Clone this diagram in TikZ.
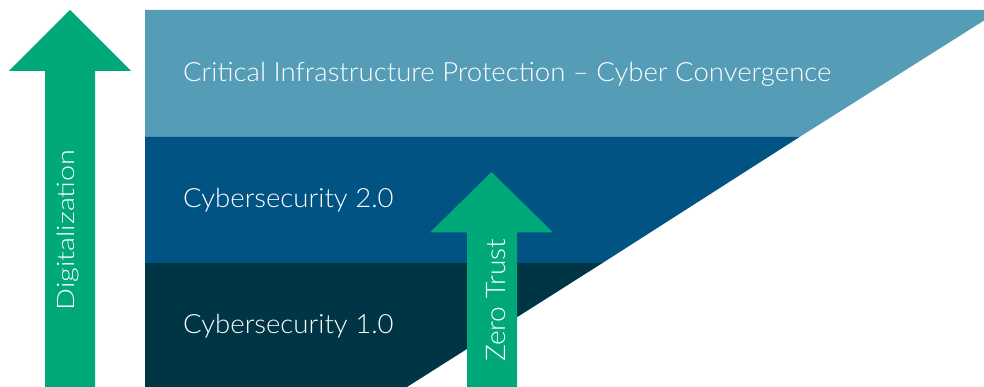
\documentclass[tikz,border=0pt]{standalone}
\usepackage{fontspec}
\setmainfont{Lato Light}
\newfontfamily\bandfont{Lato Light}[FakeStretch=1.04]
\newfontfamily\arrowfont{Lato Light}[FakeStretch=1.2]
\begin{document}
\begin{tikzpicture}[x=1pt,y=-1pt,
  bandtext/.style={anchor=base west,text=white,font=\bandfont\fontsize{26.5}{30}\selectfont,inner sep=0pt},
  arrowtext/.style={anchor=base,text=white,inner sep=0pt,rotate=90}]
\definecolor{bandA}{RGB}{85,157,183}
\definecolor{bandB}{RGB}{0,83,130}
\definecolor{bandC}{RGB}{0,53,69}
\definecolor{arrowgreen}{RGB}{0,168,122}
\useasboundingbox (0,0) rectangle (984,387);
% bands
\fill[bandA] (145,10) -- (984,10) -- (984,20.5) -- (799.5,137) -- (145,137) -- cycle;
\fill[bandB] (145,137) -- (799.5,137) -- (602.5,263) -- (145,263) -- cycle;
\fill[bandC] (145,263) -- (602.5,263) -- (407,387) -- (145,387) -- cycle;
% arrows
\fill[arrowgreen] (70,10) -- (131,71) -- (95,71) -- (95,387) -- (45,387) -- (45,71) -- (9,71) -- cycle;
\fill[arrowgreen] (491.5,172) -- (553,232.5) -- (517,232.5) -- (517,387) -- (467,387) -- (467,232.5) -- (430,232.5) -- cycle;
% texts
\node[bandtext] (cip) at (183,82) {Critical Infrastructure Protection – Cyber Convergence};
\node[bandtext] (cs2) at (183,208) {Cybersecurity 2.0};
\node[bandtext] (cs1) at (183,333) {Cybersecurity 1.0};
\node[arrowtext,font=\arrowfont\fontsize{24}{28}\selectfont] (dig) at (74,230) {Digitalization};
\node[arrowtext,font=\bandfont\fontsize{27}{30}\selectfont] (zt) at (505,300.5) {Zero Trust};
\end{tikzpicture}
\end{document}
